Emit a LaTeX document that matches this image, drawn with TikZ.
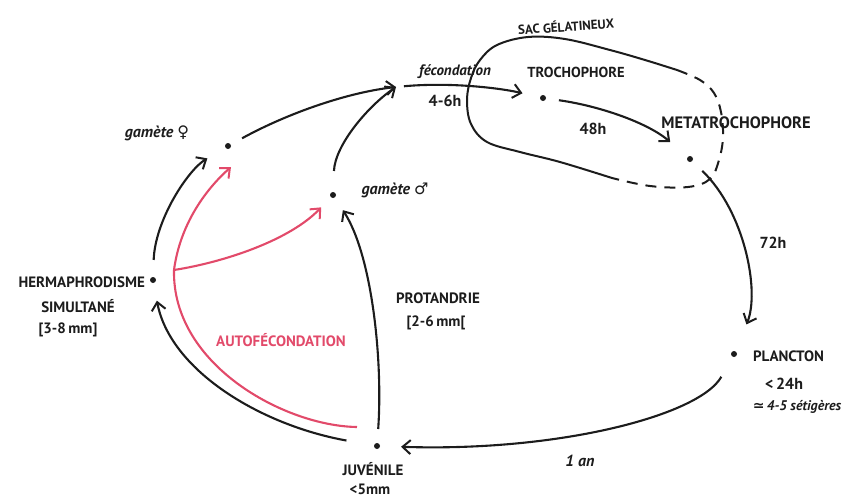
\documentclass[tikz,border=0pt]{standalone}
\usepackage{fontspec}
\setmainfont{PT Sans}
\newfontfamily\symf{DejaVu Sans}
\usetikzlibrary{arrows.meta}
\definecolor{ink}{RGB}{28,28,28}
\definecolor{rose}{RGB}{226,74,106}
\begin{document}
\begin{tikzpicture}[x=1pt,y=-1pt,
  line width=2.1pt, draw=ink, text=ink,
  dot/.style={circle, fill=ink, draw=none, inner sep=0pt, minimum size=6pt},
  tip/.style={-{Straight Barb[length=8pt,width=14pt,line width=2pt]}},
  arr/.style={draw=ink, tip},
  redarr/.style={draw=rose, tip},
  caps/.style={inner sep=0pt, font=\bfseries\fontsize{15}{17}\selectfont},
  hand/.style={inner sep=0pt, font=\bfseries\itshape\fontsize{15}{17}\selectfont},
  num/.style={inner sep=0pt, font=\bfseries\fontsize{16}{18}\selectfont},
  sac/.style={draw=ink, line width=2pt}
]
\useasboundingbox (0,0) rectangle (859,499);

% points of the cycle
\node[dot] (fem)   at (228,146) {};
\node[dot] (male)  at (333,195) {};
\coordinate (fec)  at (396,87);
\node[dot] (troch) at (543,98) {};
\node[dot] (meta)  at (690,159) {};
\node[dot] (planc) at (734,354) {};
\node[dot] (juv)   at (377,446) {};
\node[dot] (herm)  at (153,280) {};
\coordinate (rs)   at (357,427);
\coordinate (br)   at (174,270);
\coordinate (femr) at (231,167);

% sac gelatineux
\draw[sac] plot[smooth, tension=0.6] coordinates {(612,178) (560,162) (520,152) (487,142) (471,124) (467,100) (471,78) (480,60) (497,45) (528,37) (565,39) (610,50) (645,60) (677,70)};
\draw[sac, dash pattern=on 11pt off 8pt] plot[smooth, tension=0.6] coordinates {(677,70) (700,80) (714,93) (721,112) (723,137) (719,160) (710,179) (688,187) (650,186) (612,178)};

% black connectors
\draw[arr, shorten <=16pt, shorten >=20pt] (herm) .. controls (155,220) and (188,170) .. (fem);
\draw[arr, shorten <=12pt] (fem) .. controls (290,112) and (350,92) .. (fec);
\draw[arr, shorten <=20pt] (male) .. controls (335,145) and (368,106) .. (fec);
\draw[arr, shorten <=8pt, shorten >=17pt] (fec) .. controls (450,82) and (500,88) .. (troch);
\draw[arr, shorten <=12pt, shorten >=22pt] (troch) .. controls (600,106) and (648,123) .. (meta);
\draw[arr, shorten <=13pt, shorten >=28pt] (meta) .. controls (745,212) and (760,292) .. (planc);
\draw[arr, shorten <=22pt, shorten >=20pt] (planc) .. controls (700,415) and (560,452) .. (juv);
\draw[arr, shorten <=13pt, shorten >=14pt] (juv) .. controls (383,360) and (372,255) .. (male);
\draw[arr, shorten <=27pt, shorten >=17pt] (juv) .. controls (260,425) and (170,370) .. (herm);

% red connectors (autofecondation)
\draw[draw=rose] (rs) .. controls (285,426) and (172,365) .. (br);
\draw[redarr] (br) .. controls (180,225) and (205,190) .. (femr);
\draw[redarr, shorten >=13pt] (br) .. controls (225,262) and (290,240) .. (male);

% labels
\node[caps, font=\bfseries\fontsize{13}{15}\selectfont, rotate=4] (lsac) at (566,26) {SAC GÉLATINEUX};
\node[caps, font=\bfseries\fontsize{14.5}{17}\selectfont] (ltroch) at (576,72) {TROCHOPHORE};
\node[caps, font=\bfseries\fontsize{16.5}{19}\selectfont] (lmeta) at (736,123) {METATROCHOPHORE};
\node[hand] (lfec) at (455,72) {fécondation};
\node[num] (l46) at (445,101) {4-6h};
\node[num] (l48) at (593,129) {48h};
\node[num] (l72) at (773,243) {72h};
\node[hand, font=\bfseries\itshape\fontsize{16}{18}\selectfont] (lfem) at (157,133) {gamète {\symf\upshape ♀}};
\node[hand, font=\bfseries\itshape\fontsize{16}{18}\selectfont] (lmale) at (395,190) {gamète {\symf\upshape ♂}};
\node[caps, anchor=east] (lherm) at (146,282) {HERMAPHRODISME};
\node[caps] (lsimu) at (78,306) {SIMULTANÉ};
\node[caps] (lh38) at (68,330) {[3-8\,mm]};
\node[caps] (lprot) at (438,298) {PROTANDRIE};
\node[caps] (lp26) at (436,323) {[2-6\,mm[};
\node[caps, text=rose] (lauto) at (281,340) {AUTOFÉCONDATION};
\node[caps, anchor=west] (lplanc) at (752,356) {PLANCTON};
\node[num] (l24) at (784,384) {<\,24h};
\node[num, font=\bfseries\itshape\fontsize{14}{16}\selectfont] (lset) at (797,407) {{\symf\upshape ≃}\,4-5 sétigères};
\node[num, font=\bfseries\itshape\fontsize{16}{18}\selectfont] (l1an) at (580,461) {1 an};
\node[caps] (ljuv) at (373,469) {JUVÉNILE};
\node[caps] (l5mm) at (370,489) {<5mm};
\end{tikzpicture}
\end{document}
